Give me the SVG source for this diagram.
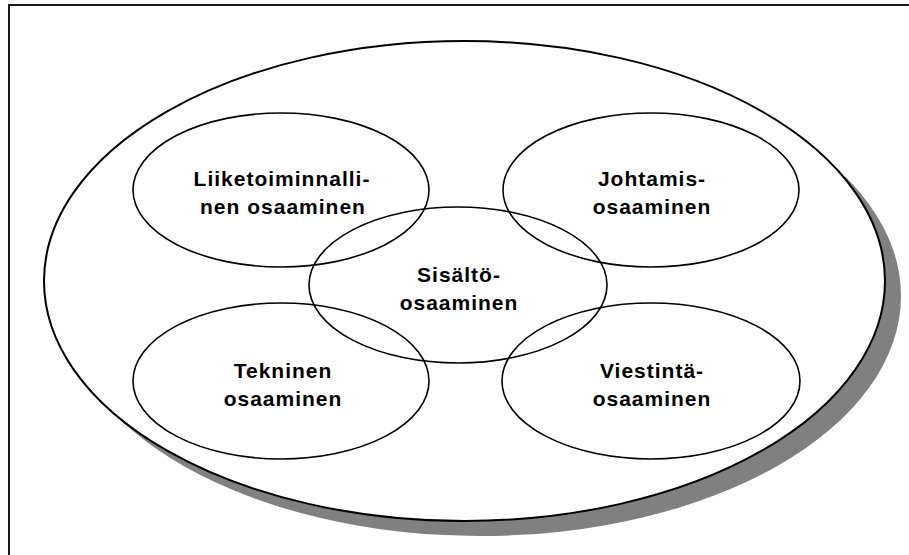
<svg xmlns="http://www.w3.org/2000/svg" width="909" height="555" viewBox="0 0 909 555">
<style>
.frame{fill:none;stroke:#1a1a1a;stroke-width:2}
.shadow{fill:#808080;stroke:none}
.outer{fill:#fff;stroke:#000;stroke-width:2}
.node{fill:none;stroke:#000;stroke-width:1.6}
.lbl{font-family:"Liberation Sans",Arial,sans-serif;font-weight:bold;font-size:21px;letter-spacing:1px;fill:#000;text-anchor:middle}
</style>
<rect class="frame" x="9" y="5" width="920" height="570"/>
<g id="container">
<ellipse class="shadow" cx="480.5" cy="296" rx="420.5" ry="240"/>
<ellipse class="outer" cx="464.5" cy="281" rx="420.5" ry="240"/>
</g>
<g id="liiketoiminnallinen">
<ellipse class="node" cx="281" cy="190" rx="148" ry="77"/>
<text class="lbl" x="282" y="186">Liiketoiminnalli-</text>
<text class="lbl" x="283" y="214">nen osaaminen</text>
</g>
<g id="johtamis">
<ellipse class="node" cx="651" cy="190" rx="148" ry="77"/>
<text class="lbl" x="652" y="186">Johtamis-</text>
<text class="lbl" x="652" y="214">osaaminen</text>
</g>
<g id="sisalto">
<ellipse class="node" cx="458" cy="285" rx="149" ry="78"/>
<text class="lbl" x="459" y="282">Sisältö-</text>
<text class="lbl" x="459" y="310">osaaminen</text>
</g>
<g id="tekninen">
<ellipse class="node" cx="281" cy="381" rx="148" ry="78"/>
<text class="lbl" x="283" y="378">Tekninen</text>
<text class="lbl" x="283" y="406">osaaminen</text>
</g>
<g id="viestinta">
<ellipse class="node" cx="651" cy="381" rx="149" ry="78"/>
<text class="lbl" x="652" y="378">Viestintä-</text>
<text class="lbl" x="652" y="406">osaaminen</text>
</g>
<g id="connectors"></g>
</svg>
